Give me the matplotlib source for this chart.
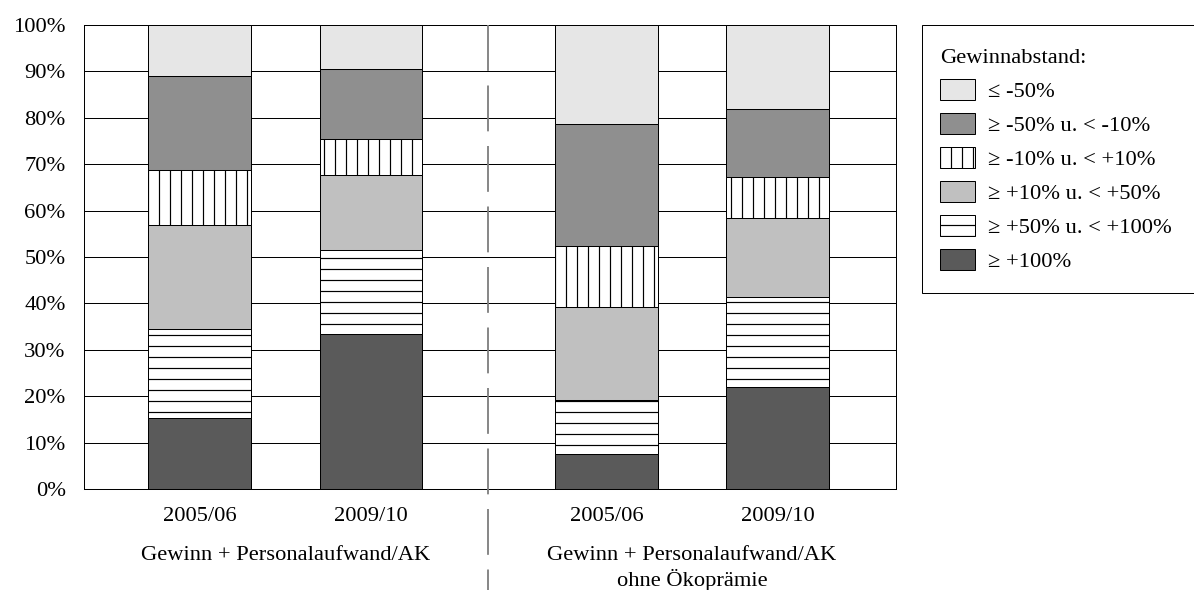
import matplotlib
matplotlib.use("Agg")
import matplotlib.pyplot as plt
from matplotlib.patches import Rectangle

# shares in % per bar, stacked bottom -> top
jahre = ["2005/06", "2009/10", "2005/06", "2009/10"]
gruppen = ["Gewinn + Personalaufwand/AK", "Gewinn + Personalaufwand/AK\nohne Ökoprämie"]
klassen = ["\u2265 +100%", "\u2265 +50% u. < +100%", "\u2265 +10% u. < +50%",
           "\u2265 -10% u. < +10%", "\u2265 -50% u. < -10%", "\u2264 -50%"]
p100 = [15.2, 33.4, 7.6, 21.9]
p50_100 = [19.2, 18.1, 11.6, 19.4]
p10_50 = [22.4, 16.1, 20.1, 17.1]
m10_p10 = [12.0, 7.8, 13.1, 8.8]
m50_m10 = [20.2, 15.2, 26.2, 14.7]
m50 = [11.0, 9.4, 21.4, 18.1]
yticks = [0, 10, 20, 30, 40, 50, 60, 70, 80, 90, 100]

serien = [p100, p50_100, p10_50, m10_p10, m50_m10, m50]
farben = ["#5a5a5a", "white", "#c0c0c0", "white", "#8f8f8f", "#e6e6e6"]
hatches = [None, "-", None, "|", None, None]

DPI = 66
FS = 24.5
plt.rcParams["font.family"] = ["Liberation Serif", "DejaVu Serif"]
plt.rcParams["font.size"] = FS
plt.rcParams["hatch.linewidth"] = 1.3
plt.rcParams["lines.scale_dashes"] = False

fig = plt.figure(figsize=(1194 / DPI, 590 / DPI), dpi=DPI)
ax = fig.add_axes([84 / 1194, 101 / 590, 812 / 1194, 464 / 590])

xs = [0, 1, 2.373, 3.37]
breite = 0.6
unten = [0, 0, 0, 0]
handles = []
for werte, fc, h, lab in zip(serien, farben, hatches, klassen):
    b = ax.bar(xs, werte, breite, bottom=unten, color=fc, edgecolor="black",
               linewidth=1.1, hatch=h, label=lab, zorder=3)
    handles.append(b)
    unten = [u + w for u, w in zip(unten, werte)]

ax.set_xlim(-0.673, 4.061)
ax.set_ylim(0, 100)
ax.set_yticks(yticks)
ax.set_yticklabels([f"{t}%" for t in yticks])
ax.set_xticks(xs)
ax.set_xticklabels(jahre)
ax.tick_params(axis="both", length=0)
ax.tick_params(axis="y", pad=20)
ax.tick_params(axis="x", pad=20)
ax.yaxis.grid(True, color="black", linewidth=1.1)
ax.set_axisbelow(True)
for s in ax.spines.values():
    s.set_linewidth(1.1)

# group labels
trans = ax.get_xaxis_transform()
ax.text((xs[0] + xs[1]) / 2, -0.123, gruppen[0], transform=trans,
        ha="center", va="top")
ax.text((xs[2] + xs[3]) / 2, -0.123, gruppen[1], transform=trans,
        ha="center", va="top", linespacing=1.25)

# dashed divider
ax.plot([1.682, 1.682], [1, -0.23], transform=trans, clip_on=False,
        color="#7f7f7f", linewidth=2, dashes=(50, 16), zorder=5)

# legend box (open on the right like the original)
fig.patches.append(Rectangle((922 / 1194, 1 - 293 / 590), 300 / 1194, 268 / 590,
                             transform=fig.transFigure, facecolor="white",
                             edgecolor="black", linewidth=1.1))
leg = fig.legend(handles[::-1], klassen[::-1], title="Gewinnabstand:",
                 loc="upper left", bbox_to_anchor=(922 / 1194, 1 - 31 / 590),
                 frameon=False, alignment="left", handlelength=1.55,
                 handleheight=1.07, handletextpad=0.6, labelspacing=0.48,
                 borderpad=0.3, fontsize=FS, title_fontsize=FS)

fig.savefig("out.png", dpi=DPI)
